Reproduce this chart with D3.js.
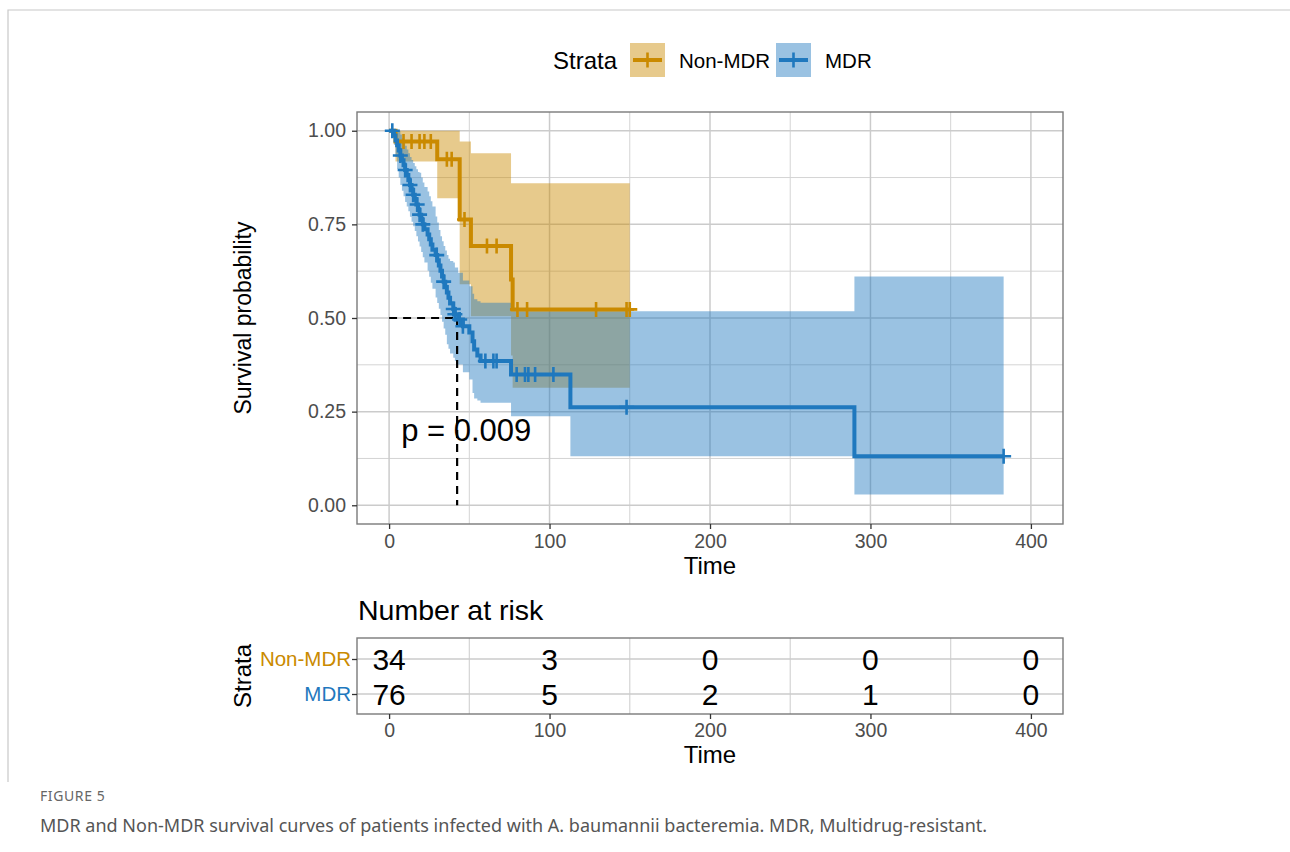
<!DOCTYPE html>
<html><head><meta charset="utf-8">
<script src="https://cdn.jsdelivr.net/npm/d3@7"></script>
<style>body{margin:0;background:#fff}svg{display:block}
svg text{font-family:"Liberation Sans", Arial, Helvetica, sans-serif;}
svg text.cap{font-family:"Noto Sans","Open Sans",sans-serif;}
</style>
</head><body>
<svg id="c" width="1290" height="852"></svg>
<script>
// ---------- DATA ----------
const strata = ["Non-MDR", "MDR"];
// step rows: [time, survival, lower CI, upper CI]
const nonMdrSteps = [
  [0, 1.000, 1.000, 1.000],
  [4, 0.971, 0.918, 1.000],
  [30, 0.924, 0.820, 1.000],
  [44, 0.763, 0.590, 0.971],
  [51, 0.692, 0.505, 0.940],
  [76, 0.603, 0.400, 0.860],
  [77, 0.523, 0.314, 0.860]
];
const nonMdrEnd = 150;
const nonMdrCensor = [9, 14, 19, 22, 26, 36, 39, 47, 61, 67, 80, 86, 129, 148, 150];

const mdrSteps = [
  [0, 1.000, 1.000, 1.000],
  [3, 0.987, 0.962, 1.000],
  [4, 0.974, 0.930, 1.000],
  [5, 0.961, 0.898, 1.000],
  [6, 0.947, 0.875, 1.000],
  [7, 0.934, 0.855, 0.990],
  [8, 0.921, 0.840, 0.980],
  [9, 0.908, 0.825, 0.970],
  [10, 0.895, 0.810, 0.960],
  [11, 0.882, 0.798, 0.950],
  [12, 0.868, 0.785, 0.940],
  [13, 0.855, 0.770, 0.930],
  [14, 0.842, 0.757, 0.922],
  [15, 0.829, 0.745, 0.914],
  [16, 0.816, 0.732, 0.905],
  [17, 0.803, 0.718, 0.897],
  [18, 0.789, 0.704, 0.890],
  [19, 0.776, 0.691, 0.888],
  [20, 0.763, 0.676, 0.875],
  [21, 0.750, 0.662, 0.862],
  [22, 0.737, 0.648, 0.850],
  [24, 0.723, 0.626, 0.838],
  [25, 0.710, 0.610, 0.825],
  [26, 0.696, 0.594, 0.812],
  [27, 0.682, 0.578, 0.798],
  [29, 0.668, 0.555, 0.771],
  [30, 0.654, 0.540, 0.755],
  [31, 0.640, 0.525, 0.735],
  [32, 0.626, 0.508, 0.718],
  [33, 0.611, 0.490, 0.705],
  [34, 0.597, 0.472, 0.692],
  [35, 0.583, 0.455, 0.680],
  [36, 0.568, 0.430, 0.668],
  [37, 0.554, 0.418, 0.658],
  [38, 0.539, 0.405, 0.652],
  [40, 0.524, 0.394, 0.648],
  [41, 0.510, 0.385, 0.635],
  [43, 0.496, 0.376, 0.621],
  [46, 0.478, 0.355, 0.600],
  [50, 0.461, 0.336, 0.585],
  [52, 0.438, 0.300, 0.565],
  [53, 0.416, 0.285, 0.550],
  [55, 0.400, 0.280, 0.545],
  [57, 0.385, 0.274, 0.541],
  [76, 0.349, 0.238, 0.518],
  [113, 0.262, 0.131, 0.518],
  [290, 0.131, 0.029, 0.611]
];
const mdrEnd = 383;
const mdrCensor = [2, 7, 10, 13, 15, 17.5, 19, 21, 29.7, 34, 40, 41, 44, 46, 60, 65, 67, 79.5, 84.7, 86.8, 91, 102.4, 148, 383];

const medianTime = 42.4;
const pText = "p = 0.009";
const xTicks = [0, 100, 200, 300, 400];
const yTicks = [0, 0.25, 0.5, 0.75, 1.0];
const yTickLabels = ["0.00", "0.25", "0.50", "0.75", "1.00"];
const riskTimes = [0, 100, 200, 300, 400];
const riskNonMdr = [34, 3, 0, 0, 0];
const riskMdr = [76, 5, 2, 1, 0];

// ---------- STYLE ----------
const colors = {"Non-MDR": "#CA8A00", "MDR": "#1F78BE"};
const bandOpacity = 0.45;

const svg = d3.select("#c");

// frame
svg.append("path").attr("d", "M8,782 V10 H1295").attr("fill", "none").attr("stroke", "#c8c8c8").attr("stroke-width", 1.2);

// ---------- MAIN PANEL ----------
const P = {l: 357, r: 1063, t: 112, b: 524};
const x = d3.scaleLinear().domain([-20, 420]).range([P.l, P.r]);
const y = d3.scaleLinear().domain([-0.05, 1.05]).range([P.b, P.t]);

const g = svg.append("g");
g.append("rect").attr("x", P.l).attr("y", P.t).attr("width", P.r - P.l).attr("height", P.b - P.t).attr("fill", "#fff");

// grid
const minorX = [50, 150, 250, 350];
const minorY = [0.125, 0.375, 0.625, 0.875];
g.selectAll(".gmx").data(minorX).join("line").attr("x1", d => x(d)).attr("x2", d => x(d)).attr("y1", P.t).attr("y2", P.b).attr("stroke", "#d4d4d4").attr("stroke-width", 1);
g.selectAll(".gmy").data(minorY).join("line").attr("y1", d => y(d)).attr("y2", d => y(d)).attr("x1", P.l).attr("x2", P.r).attr("stroke", "#d4d4d4").attr("stroke-width", 1);
g.selectAll(".gx").data(xTicks).join("line").attr("x1", d => x(d)).attr("x2", d => x(d)).attr("y1", P.t).attr("y2", P.b).attr("stroke", "#cbcbcb").attr("stroke-width", 1.5);
g.selectAll(".gy").data(yTicks).join("line").attr("y1", d => y(d)).attr("y2", d => y(d)).attr("x1", P.l).attr("x2", P.r).attr("stroke", "#cbcbcb").attr("stroke-width", 1.5);

function withEnd(steps, end) {
  const last = steps[steps.length - 1];
  return steps.concat([[end, last[1], last[2], last[3]]]);
}
function survAt(steps, t) {
  let s = steps[0][1];
  for (const r of steps) { if (r[0] <= t) s = r[1]; }
  return s;
}

const area = d3.area().curve(d3.curveStepAfter).x(d => x(d[0])).y0(d => y(d[2])).y1(d => y(d[3]));
const line = d3.line().curve(d3.curveStepAfter).x(d => x(d[0])).y(d => y(d[1]));

const series = [
  {name: "Non-MDR", steps: nonMdrSteps, end: nonMdrEnd, censor: nonMdrCensor},
  {name: "MDR", steps: mdrSteps, end: mdrEnd, censor: mdrCensor}
];

series.forEach(s => {
  g.append("path").attr("d", area(withEnd(s.steps, s.end))).attr("fill", colors[s.name]).attr("fill-opacity", bandOpacity).attr("stroke", "none");
});

// median lines
const dash = "8,6";
g.append("line").attr("x1", x(0)).attr("x2", x(medianTime)).attr("y1", y(0.5)).attr("y2", y(0.5)).attr("stroke", "#000").attr("stroke-width", 2.2).attr("stroke-dasharray", dash);
g.append("line").attr("x1", x(medianTime)).attr("x2", x(medianTime)).attr("y1", y(0.5)).attr("y2", y(0)).attr("stroke", "#000").attr("stroke-width", 2.2).attr("stroke-dasharray", dash);

series.forEach(s => {
  g.append("path").attr("d", line(withEnd(s.steps, s.end))).attr("fill", "none").attr("stroke", colors[s.name]).attr("stroke-width", 4);
  const marks = s.censor.map(t => [t, survAt(s.steps, t)]);
  g.selectAll(null).data(marks).join("path")
    .attr("d", d => `M${x(d[0]) - 7.5},${y(d[1])} h15 M${x(d[0])},${y(d[1]) - 7.5} v15`)
    .attr("stroke", colors[s.name]).attr("stroke-width", 2.6).attr("fill", "none");
});

// p-value
g.append("text").attr("x", x(7.5)).attr("y", y(0.2) + 11).attr("font-size", 31).attr("fill", "#000").text(pText);

// border
g.append("rect").attr("x", P.l).attr("y", P.t).attr("width", P.r - P.l).attr("height", P.b - P.t).attr("fill", "none").attr("stroke", "#7a7a7a").attr("stroke-width", 1.4);

// axes
function styleAxis(sel) {
  sel.select(".domain").remove();
  sel.selectAll("line").attr("stroke", "#333").attr("stroke-width", 1.3);
  sel.selectAll("text").attr("font-size", 19.5).attr("fill", "#4d4d4d");
}
const xAxis = d3.axisBottom(x).tickValues(xTicks).tickSize(5).tickPadding(5).tickFormat(d3.format("d"));
const ax = svg.append("g").attr("transform", `translate(0,${P.b})`).call(xAxis);
styleAxis(ax);

const yAxis = d3.axisLeft(y).tickValues(yTicks).tickSize(5).tickPadding(6).tickFormat((d, i) => yTickLabels[i]);
const ay = svg.append("g").attr("transform", `translate(${P.l},0)`).call(yAxis);
styleAxis(ay);

svg.append("text").attr("x", (P.l + P.r) / 2).attr("y", 574).attr("text-anchor", "middle").attr("font-size", 24).attr("fill", "#000").text("Time");
svg.append("text").attr("transform", `translate(251,${(P.t + P.b) / 2}) rotate(-90)`).attr("text-anchor", "middle").attr("font-size", 23).attr("fill", "#000").text("Survival probability");

// ---------- LEGEND ----------
svg.append("text").attr("x", 553).attr("y", 69).attr("font-size", 24).attr("fill", "#000").text("Strata");
const legend = [{name: "Non-MDR", kx: 630, tx: 679}, {name: "MDR", kx: 776, tx: 825}];
legend.forEach(l => {
  svg.append("rect").attr("x", l.kx).attr("y", 43).attr("width", 35).attr("height", 34).attr("fill", colors[l.name]).attr("fill-opacity", bandOpacity);
  svg.append("line").attr("x1", l.kx + 3).attr("x2", l.kx + 32).attr("y1", 60).attr("y2", 60).attr("stroke", colors[l.name]).attr("stroke-width", 4);
  svg.append("path").attr("d", `M${l.kx + 10},60 h15 M${l.kx + 17.5},52.5 v15`).attr("stroke", colors[l.name]).attr("stroke-width", 2.6);
  svg.append("text").attr("x", l.tx).attr("y", 68).attr("font-size", 20.5).attr("fill", "#000").text(l.name);
});

// ---------- RISK TABLE ----------
const R = {l: 357, r: 1063, t: 638, b: 714};
const yr = d3.scalePoint().domain(strata).range([659, 694]);
svg.append("text").attr("x", 358).attr("y", 620).attr("font-size", 28.5).attr("fill", "#000").text("Number at risk");
const rt = svg.append("g");
rt.append("rect").attr("x", R.l).attr("y", R.t).attr("width", R.r - R.l).attr("height", R.b - R.t).attr("fill", "#fff");
rt.selectAll(".rgx").data(minorX).join("line").attr("x1", d => x(d)).attr("x2", d => x(d)).attr("y1", R.t).attr("y2", R.b).attr("stroke", "#d4d4d4").attr("stroke-width", 1.2);
rt.selectAll(".rgy").data(strata).join("line").attr("y1", d => yr(d)).attr("y2", d => yr(d)).attr("x1", R.l).attr("x2", R.r).attr("stroke", "#cbcbcb").attr("stroke-width", 1.5);
const riskRows = [{name: "Non-MDR", vals: riskNonMdr}, {name: "MDR", vals: riskMdr}];
riskRows.forEach(r => {
  rt.selectAll(null).data(riskTimes.map((t, i) => [t, r.vals[i]])).join("text")
    .attr("x", d => x(d[0])).attr("y", yr(r.name) + 10.5).attr("text-anchor", "middle")
    .attr("font-size", 30).attr("fill", "#000").text(d => d[1]);
});
rt.append("rect").attr("x", R.l).attr("y", R.t).attr("width", R.r - R.l).attr("height", R.b - R.t).attr("fill", "none").attr("stroke", "#7a7a7a").attr("stroke-width", 1.4);

const rx = svg.append("g").attr("transform", `translate(0,${R.b})`).call(d3.axisBottom(x).tickValues(xTicks).tickSize(5).tickPadding(4).tickFormat(d3.format("d")));
styleAxis(rx);
const ry = svg.append("g").attr("transform", `translate(${R.l},0)`).call(d3.axisLeft(yr).tickSize(5).tickPadding(1));
styleAxis(ry);
ry.selectAll("text").attr("font-size", 20.5).attr("fill", d => colors[d]);

svg.append("text").attr("x", (R.l + R.r) / 2).attr("y", 763).attr("text-anchor", "middle").attr("font-size", 24).attr("fill", "#000").text("Time");
svg.append("text").attr("transform", `translate(251,${(R.t + R.b) / 2}) rotate(-90)`).attr("text-anchor", "middle").attr("font-size", 24).attr("fill", "#000").text("Strata");

// ---------- CAPTION ----------
svg.append("text").attr("class", "cap").attr("x", 40).attr("y", 801).attr("font-size", 14).attr("letter-spacing", 0.6).attr("fill", "#666").text("FIGURE 5");
svg.append("text").attr("class", "cap").attr("x", 40).attr("y", 832).attr("font-size", 18).attr("fill", "#555").text("MDR and Non-MDR survival curves of patients infected with A. baumannii bacteremia. MDR, Multidrug-resistant.");
</script>
</body></html>
